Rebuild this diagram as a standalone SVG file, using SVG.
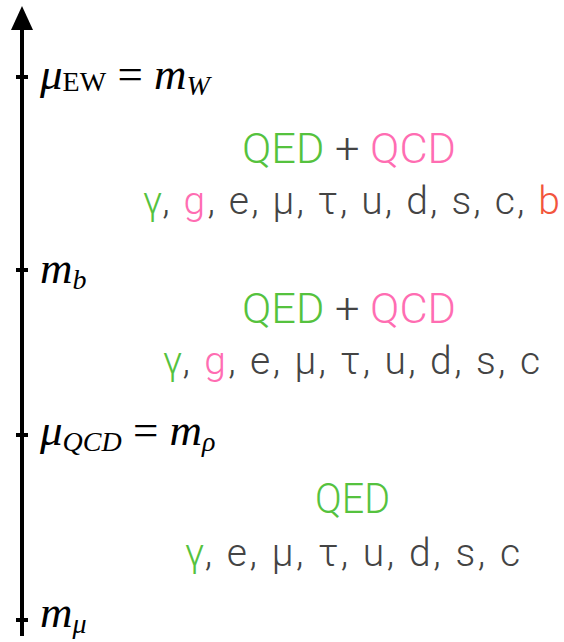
<svg xmlns="http://www.w3.org/2000/svg" width="564" height="642" viewBox="0 0 564 642">
<style>
.math{font-family:"Liberation Serif","DejaVu Serif",serif;font-style:italic;font-size:45px;fill:#000}
.up{font-style:normal}
.sub{font-size:28px}
.t{font-family:Roboto,"Liberation Sans",sans-serif;font-weight:300;font-size:39px;fill:#444}
.h{font-size:42px}
.g{fill:#55c23e}.p{fill:#ff6db2}.r{fill:#f2553d}
.axis{stroke:#000;stroke-width:4;fill:none}
</style>
<g id="connectors">
<line class="axis" x1="22" y1="24" x2="22" y2="636"/>
<polygon points="22,6 11,30 33,30" fill="#000"/>
<g class="axis" stroke-width="2.5">
<line x1="16" y1="77" x2="28" y2="77"/>
<line x1="16" y1="270" x2="28" y2="270"/>
<line x1="16" y1="435" x2="28" y2="435"/>
<line x1="16" y1="620" x2="28" y2="620"/>
</g>
</g>
<g id="label-ew"><text class="math" x="40" y="89">μ<tspan class="up sub" dy="2">EW</tspan><tspan class="up" dy="-2"> = </tspan>m<tspan class="sub" dy="6">W</tspan></text></g>
<g id="label-mb"><text class="math" x="40" y="283">m<tspan class="sub" dy="6">b</tspan></text></g>
<g id="label-qcd"><text class="math" x="40" y="445">μ<tspan class="sub" dy="6">QCD</tspan><tspan class="up" dy="-6"> = </tspan>m<tspan class="sub" dy="6">ρ</tspan></text></g>
<g id="label-mmu"><text class="math" x="40" y="627">m<tspan class="sub" dy="6">μ</tspan></text></g>
<g id="region1">
<text class="t h" x="242" y="163" textLength="214" lengthAdjust="spacingAndGlyphs"><tspan class="g">QED</tspan> + <tspan class="p">QCD</tspan></text>
<text class="t" x="143" y="214" textLength="417" lengthAdjust="spacing"><tspan class="g">γ</tspan>, <tspan class="p">g</tspan>, e, μ, τ, u, d, s, c, <tspan class="r">b</tspan></text>
</g>
<g id="region2">
<text class="t h" x="242" y="323" textLength="214" lengthAdjust="spacingAndGlyphs"><tspan class="g">QED</tspan> + <tspan class="p">QCD</tspan></text>
<text class="t" x="163" y="374" textLength="377" lengthAdjust="spacing"><tspan class="g">γ</tspan>, <tspan class="p">g</tspan>, e, μ, τ, u, d, s, c</text>
</g>
<g id="region3">
<text class="t h g" x="315" y="513" textLength="75" lengthAdjust="spacingAndGlyphs">QED</text>
<text class="t" x="185" y="566" textLength="335" lengthAdjust="spacing"><tspan class="g">γ</tspan>, e, μ, τ, u, d, s, c</text>
</g>
</svg>
